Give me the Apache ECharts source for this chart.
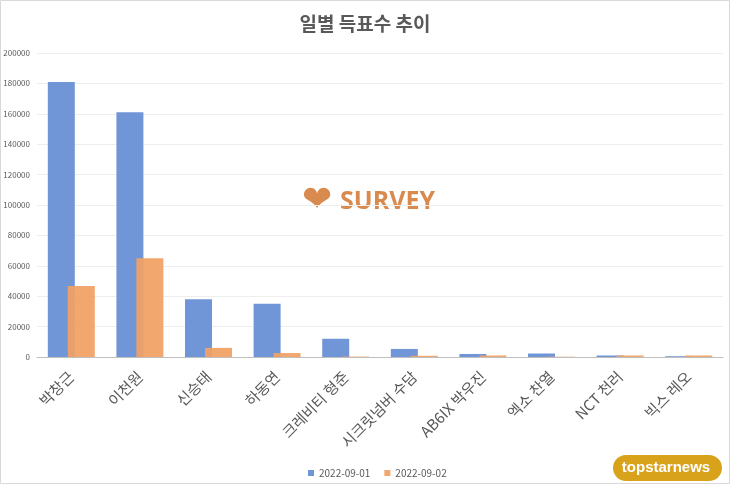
<!DOCTYPE html>
<html><head><meta charset="utf-8">
<script src="https://cdn.jsdelivr.net/npm/echarts@6/dist/echarts.min.js"></script>
<style>html,body{margin:0;padding:0;background:#fff}#c{width:730px;height:484px}</style>
</head><body><div id="c"></div>
<script>
const categories = ['박창근','이천원','신승태','하동연','크레비티 형준','시크릿넘버 수담','AB6IX 박우진','엑소 찬열','NCT 천러','빅스 레오'];
const seriesNames = ['2022-09-01','2022-09-02'];
const day1 = [181000,161000,38000,35000,12000,5300,2000,2300,1000,500];
const day2 = [46700,65000,6000,2600,300,800,1000,200,1000,1000];
const yTicks = [0,20000,40000,60000,80000,100000,120000,140000,160000,180000,200000];

const chart = echarts.init(document.getElementById('c'));
const font = '"Noto Sans CJK KR", "Noto Sans", sans-serif';
chart.setOption({
  backgroundColor:'#fff',
  animation:false,
  title:{text:'일별 득표수 추이',left:'center',top:9,textStyle:{fontFamily:font,fontSize:19,fontWeight:'bold',color:'#595959'}},
  legend:{left:303,top:463,itemWidth:6,itemHeight:6,itemGap:14,icon:'rect',textStyle:{fontFamily:font,fontSize:10,color:'#595959'},data:seriesNames},
  grid:{left:37,right:7,top:53,bottom:127},
  xAxis:{type:'category',data:categories,axisTick:{show:false},axisLine:{lineStyle:{color:'#bfbfbf'}},
    axisLabel:{rotate:45,fontFamily:font,fontSize:15,color:'#595959',margin:17,interval:0}},
  yAxis:{type:'value',min:yTicks[0],max:yTicks[yTicks.length-1],interval:20000,
    axisLabel:{fontFamily:font,fontSize:8,color:'#595959',margin:7,formatter:v=>String(v)},
    splitLine:{lineStyle:{color:'#eeeeee'}},axisLine:{show:false},axisTick:{show:false}},
  series:[
    {name:seriesNames[0],type:'bar',data:day1,barWidth:27,barGap:'-26%',itemStyle:{color:'#7196d8'},z:2},
    {name:seriesNames[1],type:'bar',data:day2,barWidth:27,itemStyle:{color:'#f1a064',opacity:0.93},z:3}
  ],
  graphic:[
    {type:'rect',shape:{x:0.5,y:0.5,width:729,height:483},style:{fill:'none',stroke:'#d9d9d9',lineWidth:1},silent:true},
    {type:'text',left:302,top:184,style:{text:'❤',fontSize:36,fill:'#d98a4e',fontFamily:'DejaVu Sans'}},
    {type:'text',left:340,top:189,style:{text:'SURVEY',fontSize:25,fontWeight:'bold',fill:'#d98a4e',fontFamily:'"Open Sans", sans-serif'}},
    {type:'rect',shape:{x:613,y:455,width:109,height:26,r:13},style:{fill:'#d9a21b'}},
    {type:'text',x:666,y:468,style:{text:'topstarnews',fontSize:15,fontWeight:'bold',fill:'#fff',align:'center',verticalAlign:'middle',fontFamily:'"Liberation Sans", sans-serif'}}
  ]
});
</script></body></html>
